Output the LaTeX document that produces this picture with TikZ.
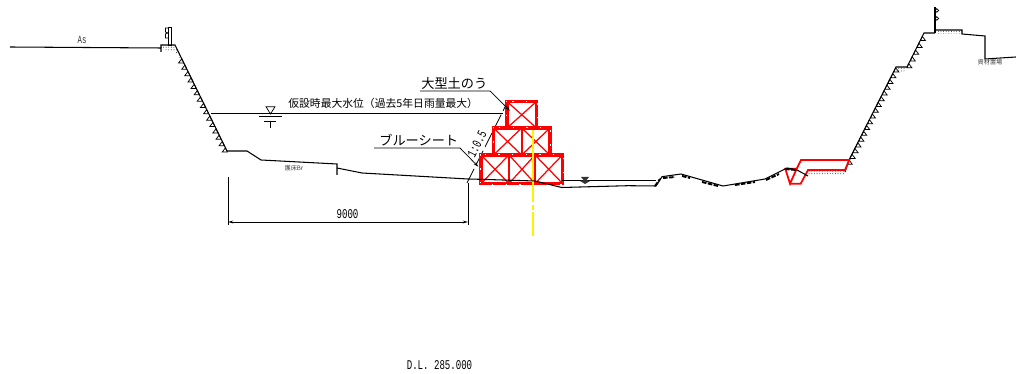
\documentclass[tikz,border=0pt]{standalone}
\usepackage{fontspec}
\setmainfont{Liberation Sans}
\newfontfamily\cjk{Noto Sans CJK JP}
\newfontfamily\cad[FakeStretch=0.68]{Liberation Mono}
\usetikzlibrary{positioning,arrows.meta,patterns}
\pgfdeclarepatternformonly{finedots}{\pgfqpoint{-0.2pt}{-0.2pt}}{\pgfqpoint{1.3pt}{1.3pt}}{\pgfqpoint{1.5pt}{1.5pt}}{
  \pgfpathcircle{\pgfqpoint{0pt}{0pt}}{0.32pt}
  \pgfusepath{fill}
}
\tikzset{
  groundline/.style={black, line width=0.6pt},
  thinline/.style={black, line width=0.42pt},
  redblock/.style={red, line width=1.8pt},
  redcross/.style={red, line width=0.7pt},
  rednotch/.style={white, line width=0.35pt, dash pattern=on 0.8pt off 7pt},
  gravel/.style={pattern=finedots, pattern color=black!75, draw=none},
  bedmark/.style={black, line width=1.1pt, dash pattern=on 2.6pt off 0.8pt},
  cjklabel/.style={inner sep=0pt, font=\cjk\fontsize{6.15}{7}\selectfont},
  callout/.style={inner sep=0pt, font=\cjk\fontsize{7.5}{9}\selectfont},
  tinylabel/.style={inner sep=0pt, text=black!75, font=\cjk\fontsize{3.5}{4}\selectfont},
  cadlabel/.style={inner sep=0pt, font=\cad\fontsize{7.6}{9}\selectfont}
}
\begin{document}
\begin{tikzpicture}[x=0.02cm,y=-0.02cm]
\useasboundingbox (0,0) rectangle (1016,374);

% Gravel under curbs
\fill[gravel] (161,46) -- (175,46) -- (183,62) -- (175,52) -- (162,49) -- cycle;
\fill[gravel] (936,30) rectangle (962,34);
\fill[gravel] (897,67) -- (907,67) -- (904,72) -- (896,72) -- cycle;
\fill[gravel] (808,170) rectangle (845,175);

% Left bank
\draw[groundline] (10,47) -- (161,48) -- (161,52);
\draw[groundline] (161,48) -- (161,45) -- (175,45) -- (227,151) -- (247,151) -- (261,160)
  -- (337,164) -- (337,175);
\draw[groundline] (337,168) -- (362,173) -- (468,179);
\foreach \t in {0.13,0.19,...,1.0} {
  \draw[thinline] ({175+52*\t},{45+106*\t}) -- ++(-3.2,4.2) -- ++(5.2,0) -- cycle;
}

% Guard rails
\draw[thinline] (168.3,27) rectangle (171.3,45);
\draw[thinline] (168,28) -- (165.5,28) -- (165.5,32) -- (168,33) -- (165.5,34) -- (165.5,38) -- (168,38);
\draw[black, line width=1pt] (935,7) -- (935,33);
\draw[thinline] (936.8,10.5) circle (1.8);
\draw[thinline] (936.8,18.5) circle (1.8);

% Right bank
\draw[groundline] (845,172) -- (849,160) -- (896,67) -- (907,67) -- (924,33) -- (935,33);
\draw[groundline] (935,30) -- (962,30) -- (962,34) -- (985,36) -- (985,59) -- (1016,57);
\foreach \t in {0.0,0.062,...,1.0} {
  \draw[thinline] ({849+47*\t},{160-93*\t}) -- ++(-1.8,4.2) -- ++(5,0) -- cycle;
}
\foreach \t in {0.1,0.3,...,1.0} {
  \draw[thinline] ({907+17*\t},{67-34*\t}) -- ++(-1.8,4.2) -- ++(5,0) -- cycle;
}

% Water level
\draw[thinline] (211,113) -- (503,113);
\draw[thinline] (266,106.7) -- (275,106.7) -- (270.5,114) -- cycle;
\draw[thinline] (259,116.7) -- (282,116.7);
\draw[thinline] (264,121) -- (276,121);
\draw[thinline] (270,121) -- (270,128.5);
\node[cjklabel, anchor=west] (waterlevel) at (288,103) {仮設時最大水位（過去5年日雨量最大）};

% Dimension
\draw[thinline] (228,177) -- (228,225);
\draw[thinline] (468,183) -- (468,225);
\draw[thinline, {Stealth[length=3pt,width=1.6pt]}-{Stealth[length=3pt,width=1.6pt]}] (228,222) -- (468,222);
\node[cadlabel] (dimwidth) at (347.5,214) {9000};
\node[cadlabel] (datum) at (439.5,365) {D.L. 285.000};

% Slope line
\draw[thinline, dash pattern=on 9pt off 2.5pt] (467,183) -- (507,103);
\node[cadlabel, rotate=63] (sloperatio) at (477,144) {1:0.5};

% Big sandbags
\foreach \xa/\ya/\xb/\yb in {507/101.5/536.5/128, 493.5/128/550/155, 481/155/562.5/183.5} {
  \draw[redblock] (\xa,\ya) rectangle (\xb,\yb);
  \draw[rednotch] (\xa-0.6,\ya-0.6) rectangle (\xb+0.6,\yb+0.6);
}
\draw[redblock, line width=1pt] (521.7,128) -- (521.7,155);
\draw[redblock, line width=1pt] (509,155) -- (509,183.5);
\draw[redblock, line width=1pt] (535,155) -- (535,183.5);
\foreach \xa/\ya/\xb/\yb in {507/101.5/536.5/128, 493.5/128/521.7/155, 521.7/128/550/155,
  481/155/509/183.5, 509/155/535/183.5, 535/155/562.5/183.5} {
  \draw[redcross] (\xa,\ya) -- (\xb,\yb);
  \draw[redcross] (\xa,\yb) -- (\xb,\ya);
}

% Yellow centre line
\draw[yellow, line width=1pt, dash pattern=on 41pt off 1.5pt on 3pt off 1pt on 14pt] (533,130) -- (533,236);

% Red outline right
\draw[red, line width=1pt] (785.3,168.7) -- (796.7,168.7) -- (790,183.7) -- cycle;
\draw[red, line width=1pt] (790,183.7) -- (800.7,183.7) -- (808,170) -- (845,170) -- (849.3,160) -- (801,160) -- (796.7,168.7);

% River bed
\draw[groundline] (468,179) -- (480,179.3) -- (535,181) -- (561.7,187.5) -- (628,185.7) -- (656,186);
\draw[thinline] (562,180) -- (656,180);
\draw[groundline] (656,186) -- (662,176.7) -- (681,174) -- (723,186) -- (765,179) -- (787,168) -- (797,170) -- (808,176);
\draw[bedmark] (655,186) -- (660,179);
\draw[bedmark] (663,178) -- (675,177);
\draw[bedmark] (682,176) -- (690,178);
\draw[bedmark] (702,182) -- (718,186);
\draw[bedmark] (735,185) -- (755,182);
\draw[bedmark] (766,180) -- (779,174);
\draw[bedmark] (785,169) -- (796,170);
\fill[black!80] (581,177) -- (589,177) -- (586.5,180) -- (590,181) -- (585,184) -- (580,181) -- (583.5,180) -- cycle;

% Callouts
\node[callout, anchor=south west] (bagtitle) at (421,89.5) {大型土のう};
\node[callout, anchor=south west] (sheettitle) at (379,146.5) {ブルーシート};
\coordinate (bagcorner) at (490,91);
\coordinate (bagend) at (510,110.7);
\coordinate (sheetcorner) at (460,148);
\coordinate (sheetend) at (478.3,166.7);
\draw[thinline, -{Stealth[length=3pt,width=1.8pt]}] (420,91) -- (bagcorner) -- (bagend);
\draw[thinline, -{Stealth[length=3pt,width=1.8pt]}] (374,148) -- (sheetcorner) -- (sheetend);

% Small labels
\node[cadlabel, text=black!80, font=\cad\fontsize{6.2}{7}\selectfont] (aslabel) at (82,40) {As};
\node[tinylabel] (bedlabel) at (294,168.5) {護床Br};
\node[tinylabel] (yardlabel) at (990,62) {資材置場};
\end{tikzpicture}
\end{document}
